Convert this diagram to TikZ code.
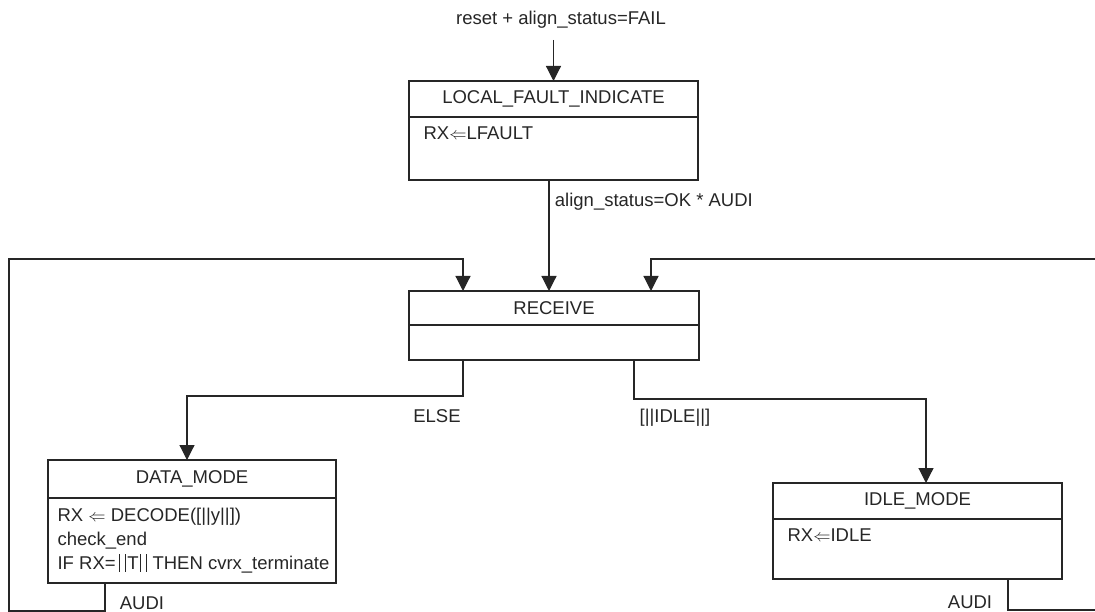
\documentclass[tikz,border=0pt]{standalone}
\usepackage{fontspec}
\setmainfont{Liberation Sans}
\usetikzlibrary{positioning,arrows.meta}
\newcommand\tallbar{\rule[-2.5pt]{1.1pt}{18pt}}

\begin{document}
\begin{tikzpicture}[x=1pt,y=-1pt,
    color=black!85,
    line width=1.2pt,
    font=\fontsize{18.5}{24}\selectfont,
    flow/.style={-{Triangle[width=15pt,length=15pt]}},
    statebox/.style={draw, line width=1.5pt, inner sep=0pt, outer sep=0pt},
    headbox/.style={statebox, minimum height=#1, anchor=north},
    body/.style={anchor=north west, align=left, inner xsep=0pt, inner ysep=9pt}]
    \useasboundingbox (0,0) rectangle (1095,612);

    % states
    \node[statebox, minimum width=289pt, minimum height=99pt] (lfi) at (553.5,130.5) {};
    \node[headbox=36pt, minimum width=289pt] (lfihead) at (lfi.north) {LOCAL\_FAULT\_INDICATE};
    \node[body, xshift=14pt] (lfitext) at (lfihead.south west) {RX$\Leftarrow$LFAULT};

    \node[statebox, minimum width=290pt, minimum height=69pt] (recv) at (554,325.5) {};
    \node[headbox=34pt, minimum width=290pt] (recvhead) at (recv.north) {RECEIVE};

    \node[statebox, minimum width=288pt, minimum height=123pt] (data) at (192,521.5) {};
    \node[headbox=38pt, minimum width=288pt] (datahead) at (data.north) {DATA\_MODE};
    \node[body, xshift=9pt] (datatext) at (datahead.south west)
        {RX $\Leftarrow$ DECODE([||y||])\\check\_end\\IF RX=\kern3pt\tallbar\kern5pt\tallbar\kern1.5pt T\kern1.5pt\tallbar\kern5pt\tallbar\ THEN cvrx\_terminate};

    \node[statebox, minimum width=289pt, minimum height=96pt] (idle) at (917.5,531) {};
    \node[headbox=36pt, minimum width=289pt] (idlehead) at (idle.north) {IDLE\_MODE};
    \node[body, xshift=14pt] (idletext) at (idlehead.south west) {RX$\Leftarrow$IDLE};

    % transitions
    \coordinate (init) at (553.5,40);
    \coordinate (lcorner) at (9,259);
    \coordinate (rcorner) at (1098,259);
    \node (resetlbl) at (561,20) {reset + align\_status=FAIL};
    \draw[flow] (init) -- (lfi);
    \draw[flow] ([xshift=-4.5pt]lfi.south) -- node[right, pos=0.2, xshift=2pt] (oklbl) {align\_status=OK * AUDI} ([xshift=-5pt]recv.north);
    \draw[flow] ([xshift=-91pt]recv.south) -- ++(0,36) -| ([xshift=-5pt]data.north);
    \draw[flow] ([xshift=80pt]recv.south) -- ++(0,39) -| ([xshift=8.5pt]idle.north);
    \draw[flow] ([xshift=-87pt]data.south) -- ++(0,28) -| (lcorner) -| ([xshift=-91pt]recv.north);
    \draw[flow] ([xshift=90.5pt]idle.south) -- ++(0,31) -| (rcorner) -| ([xshift=97pt]recv.north);
    \node (elselbl) at (437,416) {ELSE};
    \node (idlelbl) at (675,418) {[||IDLE||]};
    \node (audil) at (142,603) {AUDI};
    \node (audir) at (970,602) {AUDI};
\end{tikzpicture}
\end{document}
